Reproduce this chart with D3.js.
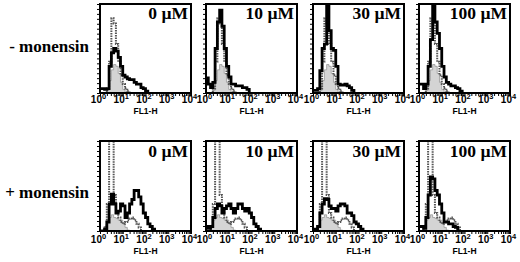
<!DOCTYPE html>
<meta charset="utf-8">
<style>
body { margin: 0; background: #fff; }
svg { display: block; }
.row-label { font: bold 17px "Liberation Serif", "Times New Roman", serif; }
.conc { font: bold 17.5px "Liberation Serif", "Times New Roman", serif; }
.dec-lab { font: bold 10px "Liberation Sans", Arial, sans-serif; }
.fl { font: bold 8.5px "Liberation Sans", Arial, sans-serif; }
.gray { fill: #d4d4d4; stroke: #999; stroke-width: 0.8px; }
.dot { fill: none; stroke: #555; stroke-width: 2px; stroke-dasharray: 1.5,1; }
.blk { fill: none; stroke: #000; stroke-width: 2.8px; }
</style>
<svg width="520" height="262"></svg>
<script src="https://d3js.org/d3.v7.min.js"></script>
<script>
// chart values (fraction of panel height per 0.1-decade channel bin)
var concs = ["0 µM", "10 µM", "30 µM", "100 µM"];
var rowLabels = ["- monensin", "+ monensin"];
var decades = [1, 10, 100, 1000, 10000];
var binStep = 0.1;

// - monensin : controls shared across the row
var grayMinus = [0,0,0,0.03,0.14,0.26,0.32,0.3,0.22,0.12,0.04,0.01,0,0];
var dotMinus  = [0,0,0,0.05,0.35,0.84,0.78,0.55,0.35,0.2,0.1,0.05,0.02,0,0];
var blkMinus0   = [0.05,0.05,0.04,0.05,0.3,0.45,0.5,0.47,0.4,0.3,0.2,0.18,0.16,0.15,0.15,0.12,0.1,0.1,0.06,0.05,0.02,0];
var blkMinus10  = [0.17,0.1,0.06,0.12,0.5,0.8,0.93,0.75,0.5,0.3,0.18,0.1,0.1,0.08,0.08,0.08,0.06,0.06,0.04,0];
var blkMinus30  = [0.03,0.03,0.05,0.25,0.5,0.55,1.0,0.7,0.5,0.48,0.3,0.1,0.09,0.09,0.1,0.08,0.06,0.03,0];
var blkMinus100 = [0.1,0.1,0.05,0.1,0.3,0.6,1.0,0.8,0.67,0.5,0.3,0.18,0.12,0.1,0.08,0.08,0.06,0.05,0.02,0];

// + monensin
var grayPlus = [0,0,0.05,0.12,0.15,0.18,0.15,0.14,0.12,0.12,0.08,0.04,0.01,0];
var dotPlus  = [0,0,0.05,0.3,1.2,1.2,0.4,0.2,0.15,0.1,0.08,0.1,0.12,0.14,0.15,0.12,0.08,0.04,0];
var blkPlus0   = [0,0,0.02,0.1,0.3,0.41,0.3,0.2,0.22,0.3,0.28,0.15,0.2,0.3,0.35,0.45,0.45,0.38,0.3,0.2,0.15,0.08,0.05,0.02,0];
var blkPlus10  = [0.05,0.03,0.05,0.15,0.25,0.3,0.28,0.2,0.25,0.28,0.3,0.25,0.2,0.25,0.3,0.3,0.25,0.22,0.25,0.2,0.15,0.08,0.05,0.02,0];
var blkPlus30  = [0.02,0.02,0.05,0.2,0.3,0.36,0.35,0.28,0.25,0.25,0.22,0.28,0.3,0.3,0.28,0.2,0.2,0.17,0.1,0.08,0.05,0.02,0];
var blkPlus100 = [0.05,0.05,0.03,0.15,0.4,0.6,0.58,0.45,0.4,0.3,0.2,0.1,0.1,0.08,0.08,0.05,0.04,0];

var rows = [
  {label: rowLabels[0], gray: grayMinus, dot: dotMinus, blk: [blkMinus0, blkMinus10, blkMinus30, blkMinus100]},
  {label: rowLabels[1], gray: grayPlus,  dot: dotPlus,  blk: [blkPlus0, blkPlus10, blkPlus30, blkPlus100]}
];

// layout
var svg = d3.select("svg");
var panelX = [100, 206, 313, 419], panelW = 91;
var rowY = [4, 141], panelH = [89, 90];
var labY = [{row: 52, conc: 18.5, dec: 103, fl: 113.5}, {row: 198, conc: 157, dec: 242.5, fl: 253.5}];

function pts(vals) {
  return vals.map(function(v, i) { return [Math.pow(10, i * binStep), v]; });
}

rows.forEach(function(r, ri) {
  svg.append("text").attr("class", "row-label")
    .attr("x", 89).attr("y", labY[ri].row)
    .attr("text-anchor", "end").text(r.label);

  panelX.forEach(function(px, pi) {
    var h = panelH[ri];
    var x = d3.scaleLog().domain([1, 10000]).range([0, panelW]),
        y = d3.scaleLinear().domain([0, 1]).range([h, 0]);
    var g = svg.append("g").attr("transform", "translate(" + px + "," + rowY[ri] + ")");
    var cid = "clip" + ri + pi;
    g.append("clipPath").attr("id", cid).append("rect")
      .attr("width", panelW).attr("height", h);

    var area = d3.area().curve(d3.curveStepAfter)
      .x(function(d) { return x(d[0]); }).y0(y(0)).y1(function(d) { return y(d[1]); });
    var line = d3.line().curve(d3.curveStepAfter)
      .x(function(d) { return x(d[0]); }).y(function(d) { return y(d[1]); });

    var hg = g.append("g").attr("clip-path", "url(#" + cid + ")");
    hg.append("path").attr("class", "gray").attr("d", area(pts(r.gray)));
    hg.append("path").attr("class", "dot").attr("d", line(pts(r.dot)));
    hg.append("path").attr("class", "blk").attr("d", line(pts(r.blk[pi])));

    // axes ticks
    g.append("g").call(d3.axisLeft(y).tickValues(d3.range(0, 1.001, 1 / 18)).tickSize(3).tickFormat(""));
    var minor = [];
    decades.forEach(function(d) { for (var k = 1; k < 10; k++) if (d * k <= 10000) minor.push(d * k); });
    g.append("g").attr("transform", "translate(0," + h + ")")
      .call(d3.axisBottom(x).tickValues(minor).tickSize(3).tickFormat(""));
    g.selectAll(".domain").remove();
    g.selectAll(".tick line").attr("stroke", "#000").attr("stroke-width", 1);

    g.append("rect").attr("width", panelW).attr("height", h)
      .attr("fill", "none").attr("stroke", "#000").attr("stroke-width", 2);

    g.append("text").attr("class", "conc")
      .attr("x", panelW - 3).attr("y", labY[ri].conc - rowY[ri])
      .attr("text-anchor", "end").text(concs[pi]);

    decades.forEach(function(d, k) {
      var t = g.append("text").attr("class", "dec-lab")
        .attr("x", x(d) - 1.5).attr("y", labY[ri].dec - rowY[ri])
        .attr("text-anchor", "middle");
      t.append("tspan").text("10");
      t.append("tspan").attr("dy", -4).attr("font-size", "7.5px").text(k);
    });
    g.append("text").attr("class", "fl")
      .attr("x", panelW / 2).attr("y", labY[ri].fl - rowY[ri])
      .attr("text-anchor", "middle").text("FL1-H");
  });
});
</script>
